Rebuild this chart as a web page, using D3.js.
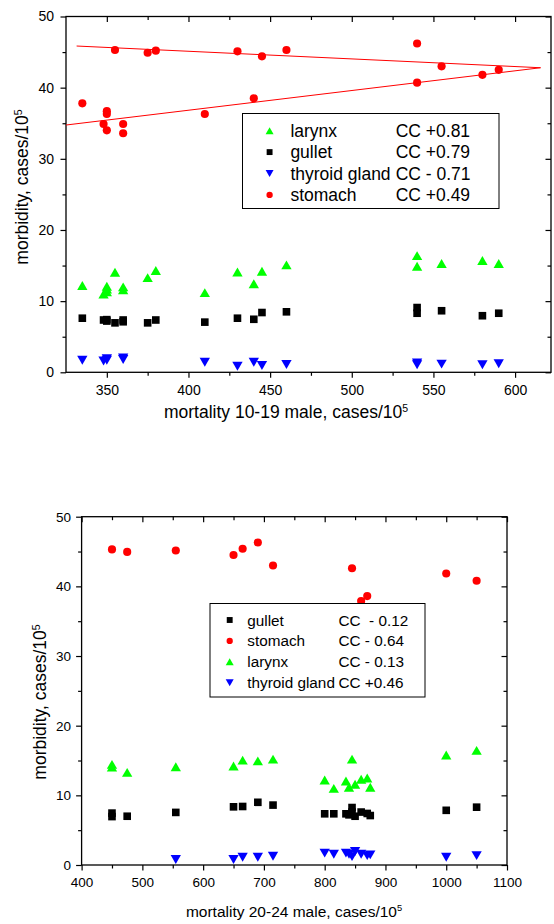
<!DOCTYPE html>
<html>
<head>
<meta charset="utf-8">
<script src="https://cdn.jsdelivr.net/npm/d3@7"></script>
<style>
body { margin: 0; background: #fff; }
text { font-family: "Liberation Sans", Arial, sans-serif; fill: #000; }
</style>
</head>
<body>
<div id="chart"></div>
<script>
// ---- data: [mortality, morbidity] ----
// upper panel: mortality 10-19 male
var topLarynx = [[335,12.2],[348,11.0],[350,12.1],[350,11.3],[350,11.7],[355,14.05],[360,12.0],[360,11.6],[375,13.3],[380,14.3],
                 [410,11.2],[430,14.1],[440,12.45],[445,14.2],[460,15.1],[540,16.4],[540,14.9],[555,15.3],[580,15.7],[590,15.3]];
var topGullet = [[335,7.6],[348,7.35],[350,7.4],[350,7.2],[355,6.95],[360,7.35],[360,7.1],[375,6.95],[380,7.35],[410,7.05],
                 [430,7.6],[440,7.45],[445,8.4],[460,8.5],[540,9.1],[540,8.3],[555,8.65],[580,7.95],[590,8.3]];
var topThyroid = [[335,1.7],[348,1.6],[350,1.9],[350,1.7],[360,2.0],[360,1.8],[410,1.4],[430,0.85],[440,1.4],[445,0.95],
                  [460,1.1],[540,1.3],[540,1.05],[555,1.15],[580,1.05],[590,1.2]];
var topStomach = [[335,37.8],[348,34.9],[350,36.7],[350,36.3],[350,34.0],[355,45.3],[360,34.9],[360,33.6],[375,44.9],[380,45.2],
                  [410,36.3],[430,45.1],[440,38.5],[445,44.4],[460,45.3],[540,46.2],[540,40.7],[555,43.0],[580,41.8],[590,42.5]];
// two fitted lines for stomach (end points)
var topFitUpper = [[331.5,45.85],[615.6,42.8]];
var topFitLower = [[325,34.75],[615.6,42.8]];

// lower panel: mortality 20-24 male
var botGullet = [[450,7.45],[450,6.95],[475,7.0],[555,7.55],[650,8.35],[665,8.4],[690,9.0],[715,8.6],[800,7.35],[815,7.35],
                 [835,7.35],[840,7.2],[845,8.25],[845,7.6],[850,7.0],[860,7.6],[870,7.4],[875,7.1],[1000,7.85],[1050,8.3]];
var botStomach = [[450,45.3],[475,44.95],[555,45.15],[650,44.5],[665,45.4],[690,46.3],[715,43.0],[845,42.6],[860,37.9],[870,38.6],
                  [1000,41.85],[1050,40.8]];
var botLarynx = [[450,14.45],[450,14.05],[475,13.3],[555,14.1],[650,14.2],[665,15.05],[690,14.95],[715,15.2],[800,12.2],[815,11.0],
                 [835,12.05],[840,11.15],[845,15.2],[850,11.6],[860,12.3],[870,12.5],[875,11.15],[1000,15.8],[1050,16.45]];
var botThyroid = [[555,0.8],[650,0.8],[665,1.1],[690,1.1],[715,1.25],[800,1.7],[815,1.55],[835,1.7],[840,1.55],[845,1.2],
                  [850,1.95],[860,1.55],[870,1.35],[875,1.45],[1000,1.1],[1050,1.35]];

// ticks
var yMajor = [0, 10, 20, 30, 40, 50];
var yMinor = [5, 15, 25, 35, 45];
var topXMajor = [350, 400, 450, 500, 550, 600];
var topXMinor = [375, 425, 475, 525, 575];
var botXMajor = [400, 500, 600, 700, 800, 900, 1000, 1100];
var botXMinor = [450, 550, 650, 750, 850, 950, 1050];

// legends
var topLegendKeys = ["larynx", "gullet", "thyroid", "stomach"];
var topLegendNames = ["larynx", "gullet", "thyroid gland", "stomach"];
var topLegendCC = ["CC +0.81", "CC +0.79", "CC - 0.71", "CC +0.49"];
var botLegendKeys = ["gullet", "stomach", "larynx", "thyroid"];
var botLegendNames = ["gullet", "stomach", "larynx", "thyroid gland"];
var botLegendCC = ["CC  - 0.12", "CC - 0.64", "CC - 0.13", "CC +0.46"];

// marker styles
var marks = {
  larynx:  {type: d3.symbolTriangle, color: "#00ff00", rot: 0},
  gullet:  {type: d3.symbolSquare,   color: "#000000", rot: 0},
  thyroid: {type: d3.symbolTriangle, color: "#0000ff", rot: 180},
  stomach: {type: d3.symbolCircle,   color: "#ff0000", rot: 0}
};
var markSize = {larynx: 46, gullet: 58, thyroid: 46, stomach: 52};

var svg = d3.select("#chart").append("svg")
    .attr("width", 554)
    .attr("height", 924);

function symbolTransform(key, scale, cx, cy) {
  var m = marks[key];
  var dy = 0;
  if (m.type === d3.symbolTriangle) {
    // centre the triangle's box on the point, not its centroid
    var h = Math.sqrt(markSize[key] * scale / (3 * Math.sqrt(3)));
    dy = m.rot ? -h / 2 : h / 2;
  }
  return "translate(" + cx + "," + (cy + dy) + ") rotate(" + m.rot + ")";
}

function drawPanel(p) {
  var x = d3.scaleLinear().domain(p.xDomain).range([p.left, p.right]);
  var y = d3.scaleLinear().domain([0, 50]).range([p.bottom, p.top]);
  var g = svg.append("g");
  var fmt = d3.format("d");

  function axis(gen, tr, fs) {
    var a = g.append("g").attr("transform", tr).call(gen);
    a.select(".domain").remove();
    a.selectAll("line").attr("stroke", "#000").attr("stroke-width", 1.2);
    a.selectAll("text").attr("font-size", fs).attr("font-family", null).attr("fill", "#000");
    return a;
  }
  var bt = "translate(0," + p.bottom + ")", tp = "translate(0," + p.top + ")";
  var lf = "translate(" + p.left + ",0)", rt = "translate(" + p.right + ",0)";

  axis(d3.axisBottom(x).tickValues(p.xMajor).tickFormat(fmt).tickSize(5.5).tickPadding(p.xPad).tickSizeOuter(0), bt, p.tickFont);
  axis(d3.axisBottom(x).tickValues(p.xMinor).tickSize(3.5).tickFormat(""), bt);
  axis(d3.axisTop(x).tickValues(p.xMajor).tickSize(-5.5).tickFormat(""), tp);
  axis(d3.axisTop(x).tickValues(p.xMinor).tickSize(-3.5).tickFormat(""), tp);
  axis(d3.axisLeft(y).tickValues(yMajor).tickFormat(fmt).tickSize(5.5).tickPadding(p.yPad).tickSizeOuter(0), lf, p.tickFont);
  axis(d3.axisLeft(y).tickValues(yMinor).tickSize(3.5).tickFormat(""), lf);
  axis(d3.axisRight(y).tickValues(yMajor).tickSize(-5.5).tickFormat(""), rt);
  axis(d3.axisRight(y).tickValues(yMinor).tickSize(-3.5).tickFormat(""), rt);

  // frame
  g.append("rect")
    .attr("x", p.left).attr("y", p.top)
    .attr("width", p.right - p.left).attr("height", p.bottom - p.top)
    .attr("fill", "none").attr("stroke", "#000").attr("stroke-width", 1.3);

  // fitted lines
  var line = d3.line().x(function(d){ return x(d[0]); }).y(function(d){ return y(d[1]); });
  (p.lines || []).forEach(function(l) {
    g.append("path").attr("d", line(l)).attr("fill", "none")
      .attr("stroke", "#ff0000").attr("stroke-width", 1);
  });

  // points
  p.series.forEach(function(s) {
    var m = marks[s.key];
    g.selectAll(null)
      .data(s.data)
      .enter().append("path")
        .attr("d", d3.symbol().type(m.type).size(markSize[s.key]))
        .attr("fill", m.color)
        .attr("transform", function(d) { return symbolTransform(s.key, 1, x(d[0]), y(d[1])); });
  });

  // legend
  var L = p.legend;
  g.append("rect")
    .attr("x", L.x0).attr("y", L.y0)
    .attr("width", L.x1 - L.x0).attr("height", L.y1 - L.y0)
    .attr("fill", "#fff").attr("stroke", "#000").attr("stroke-width", 1);
  L.keys.forEach(function(k, i) {
    var cy = L.row0 + i * L.step;
    var m = marks[k];
    g.append("path")
      .attr("d", d3.symbol().type(m.type).size(markSize[k] * 0.6))
      .attr("fill", m.color)
      .attr("transform", symbolTransform(k, 0.6, L.sx, cy));
    g.append("text").attr("x", L.lx).attr("y", cy).attr("dy", "0.36em")
      .attr("font-size", L.font).text(L.names[i]);
    g.append("text").attr("x", L.cx).attr("y", cy).attr("dy", "0.36em")
      .attr("font-size", L.font).style("white-space", "pre").text(L.cc[i]);
  });

  // axis titles
  var xt = g.append("text").attr("x", p.xTitle[0]).attr("y", p.xTitle[1])
    .attr("text-anchor", "middle").attr("font-size", p.xTitleFont);
  xt.append("tspan").text(p.xLabel);
  xt.append("tspan").attr("dy", "-0.6em").attr("font-size", "0.6em").text("5");

  var yt = g.append("text")
    .attr("transform", "translate(" + p.yTitle[0] + "," + p.yTitle[1] + ") rotate(-90)")
    .attr("text-anchor", "middle").attr("font-size", p.yTitleFont);
  yt.append("tspan").text("morbidity, cases/10");
  yt.append("tspan").attr("dy", "-0.6em").attr("font-size", "0.6em").text("5");
}

drawPanel({
  xDomain: [325, 622], left: 66, right: 551, top: 16.5, bottom: 372.3,
  xMajor: topXMajor, xMinor: topXMinor, xPad: 7, yPad: 6.5, tickFont: 14,
  series: [
    {key: "larynx", data: topLarynx},
    {key: "gullet", data: topGullet},
    {key: "thyroid", data: topThyroid},
    {key: "stomach", data: topStomach}
  ],
  lines: [topFitUpper, topFitLower],
  legend: {x0: 242.5, y0: 113.5, x1: 499, y1: 208.5, row0: 130.7, step: 21.4,
           sx: 269.6, lx: 290.4, cx: 395.7, font: 17.5,
           keys: topLegendKeys, names: topLegendNames, cc: topLegendCC},
  xLabel: "mortality 10-19 male, cases/10", xTitle: [286, 418], xTitleFont: 17.5,
  yTitle: [28, 187], yTitleFont: 17.5
});

drawPanel({
  xDomain: [400, 1100], left: 81.6, right: 507, top: 516.7, bottom: 865,
  xMajor: botXMajor, xMinor: botXMinor, xPad: 7, yPad: 5, tickFont: 13.5,
  series: [
    {key: "larynx", data: botLarynx},
    {key: "gullet", data: botGullet},
    {key: "thyroid", data: botThyroid},
    {key: "stomach", data: botStomach}
  ],
  legend: {x0: 210, y0: 603.5, x1: 425, y1: 697, row0: 620, step: 20.9,
           sx: 229.7, lx: 247.3, cx: 338.5, font: 15.3,
           keys: botLegendKeys, names: botLegendNames, cc: botLegendCC},
  xLabel: "mortality 20-24 male, cases/10", xTitle: [294, 917], xTitleFont: 15.5,
  yTitle: [46, 702], yTitleFont: 17.5
});
</script>
</body>
</html>
